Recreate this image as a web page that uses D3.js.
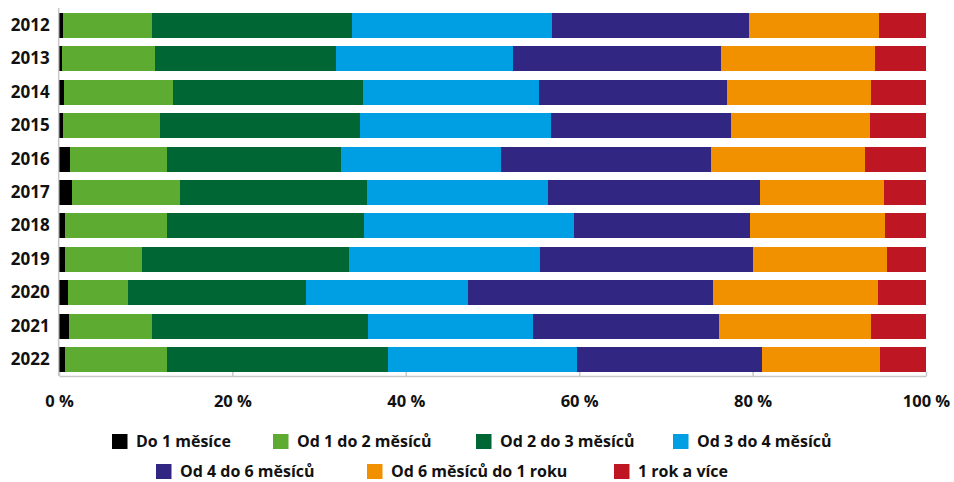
<!DOCTYPE html>
<html>
<head>
<meta charset="utf-8">
<script src="https://cdn.jsdelivr.net/npm/d3@7"></script>
<style>
  html, body { margin: 0; padding: 0; background: #fff; }
  svg { display: block; font-family: "Open Sans", "Liberation Sans", sans-serif; font-weight: 700; }
</style>
</head>
<body>
<svg id="chart" width="954" height="482"></svg>
<script>
const years = ["2012","2013","2014","2015","2016","2017","2018","2019","2020","2021","2022"];
const seriesNames = ["Do 1 měsíce","Od 1 do 2 měsíců","Od 2 do 3 měsíců","Od 3 do 4 měsíců","Od 4 do 6 měsíců","Od 6 měsíců do 1 roku","1 rok a více"];
const do1 =    [0.5, 0.3, 0.6, 0.5, 1.3, 1.5, 0.7, 0.7, 1.0, 1.1, 0.7];
const od1do2 = [10.2, 10.8, 12.6, 11.2, 11.1, 12.5, 11.7, 8.9, 7.0, 9.6, 11.8];
const od2do3 = [23.1, 20.9, 21.9, 23.0, 20.1, 21.5, 22.8, 23.9, 20.5, 24.9, 25.4];
const od3do4 = [23.1, 20.4, 20.3, 22.1, 18.5, 20.9, 24.2, 22.0, 18.7, 19.1, 21.9];
const od4do6 = [22.7, 23.9, 21.7, 20.7, 24.2, 24.5, 20.3, 24.5, 28.2, 21.4, 21.3];
const od6do12 = [15.0, 17.8, 16.5, 16.0, 17.8, 14.3, 15.6, 15.5, 19.1, 17.5, 13.6];
const nad1rok = [5.4, 5.9, 6.4, 6.5, 7.0, 4.8, 4.7, 4.5, 5.5, 6.4, 5.3];
const tickValues = [0, 0.2, 0.4, 0.6, 0.8, 1.0];
const tickLabels = ["0 %","20 %","40 %","60 %","80 %","100 %"];
const colors = ["#000000","#5eab31","#006633","#009fe3","#312783","#f29100","#be1622"];

const seriesValues = [do1, od1do2, od2do3, od3do4, od4do6, od6do12, nad1rok];
const rows = years.map((y, i) => {
  const r = { year: y };
  seriesNames.forEach((s, j) => r[s] = seriesValues[j][i]);
  return r;
});

const svg = d3.select("#chart");
const x = d3.scaleLinear().domain([0, 1]).range([59, 926]);
const y = d3.scaleBand().domain(years).range([8.8, 376.2]).paddingInner(0.25).paddingOuter(0.125);
const color = d3.scaleOrdinal().domain(seriesNames).range(colors);

const stack = d3.stack().keys(seriesNames).offset(d3.stackOffsetExpand);
const layers = stack(rows);

svg.append("g").selectAll("g").data(layers).join("g")
  .attr("fill", d => color(d.key))
  .selectAll("rect").data(d => d).join("rect")
  .attr("x", d => x(d[0]))
  .attr("y", d => y(d.data.year))
  .attr("width", d => Math.max(0, x(d[1]) - x(d[0])))
  .attr("height", y.bandwidth())
  .attr("shape-rendering", "crispEdges");

// axes lines
const axisColor = "#c8c8c8";
const xAxis = d3.axisBottom(x).tickValues(tickValues).tickSize(0).tickFormat((d, i) => tickLabels[i]);
const gx = svg.append("g").attr("transform", "translate(0,376)").call(xAxis);
gx.select(".domain").attr("stroke", axisColor).attr("stroke-width", 1.5);
gx.selectAll(".tick line").remove();
gx.selectAll(".tick").append("line").attr("y1", -4).attr("y2", 0).attr("stroke", axisColor).attr("stroke-width", 1.5);
gx.selectAll(".tick text").attr("dy", 0).attr("y", 31).attr("fill", "#111")
  .style("font-size", "16.5px").style("font-weight", 700).style("font-family", '"Open Sans", sans-serif');

const yAxis = d3.axisLeft(y).tickSize(0).tickPadding(9);
const gy = svg.append("g").attr("transform", "translate(58.7,0)").call(yAxis);
gy.select(".domain").attr("stroke", axisColor).attr("stroke-width", 1.5).attr("d", "M0,8V376");
gy.selectAll(".tick text").attr("fill", "#111")
  .style("font-size", "17px").style("font-weight", 700).style("font-family", '"Open Sans", sans-serif');

// legend
const legendPos = [
  [112, 434], [273, 434], [476, 434], [673, 434],
  [156, 464], [367, 464], [614, 464]
];
const lg = svg.append("g").selectAll("g").data(seriesNames).join("g")
  .attr("transform", (d, i) => `translate(${legendPos[i][0]},${legendPos[i][1]})`);
lg.append("rect").attr("width", 15.5).attr("height", 15).attr("fill", d => color(d));
lg.append("text").attr("x", 24).attr("y", 13).text(d => d)
  .attr("fill", "#111").style("font-size", "16px");
</script>
</body>
</html>
